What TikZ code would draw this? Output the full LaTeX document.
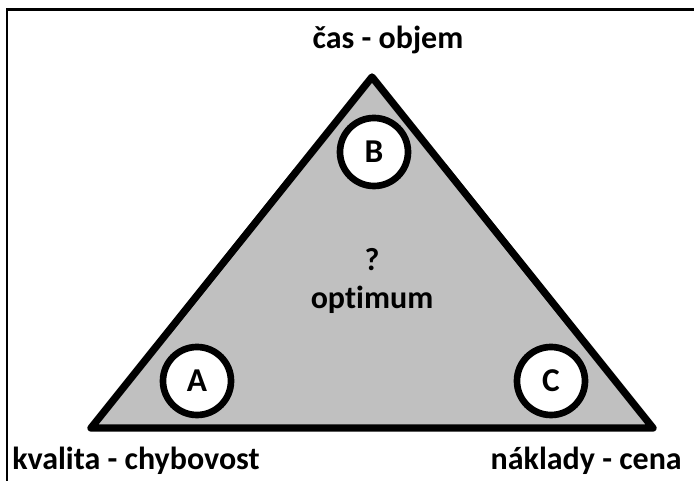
\documentclass[tikz,border=0pt]{standalone}
\usepackage{fontspec}
\setmainfont[Ligatures=NoCommon]{Carlito}
\definecolor{trifill}{RGB}{192,192,192}
\tikzset{
  lbl/.style={font=\fontsize{24}{28}\selectfont\bfseries, inner sep=0pt},
  mark circ/.style={circle, draw=black, fill=white, line width=5pt, minimum size=51pt, inner sep=0pt,
    font=\fontsize{25}{29}\selectfont\bfseries},
}
\begin{document}
\begin{tikzpicture}[x=0.75pt,y=-0.75pt]
\useasboundingbox (0,0) rectangle (694,481);
\draw[line width=1.6pt] (7,481) -- (7,9.5) -- (694,9.5);
\coordinate (L) at (91,428);
\coordinate (T) at (372,77);
\coordinate (R) at (653,428);
\draw[fill=trifill, line width=5.5pt, line join=round] (L) -- (T) -- (R) -- cycle;
\node[mark circ] (B) at (374,152) {B};
\node[mark circ] (A) at (197,381) {A};
\node[mark circ] (C) at (551,381) {C};
\node[lbl, anchor=base] (q) at (372,271) {?};
\node[lbl, anchor=base] (opt) at (372,309) {optimum};
\node[lbl, anchor=base] (cas) at (388,49) {čas - objem};
\node[lbl, anchor=base west] (kv) at (12,470) {kvalita - chybovost};
\node[lbl, anchor=base east] (nk) at (682,470) {náklady - cena};
\end{tikzpicture}
\end{document}
